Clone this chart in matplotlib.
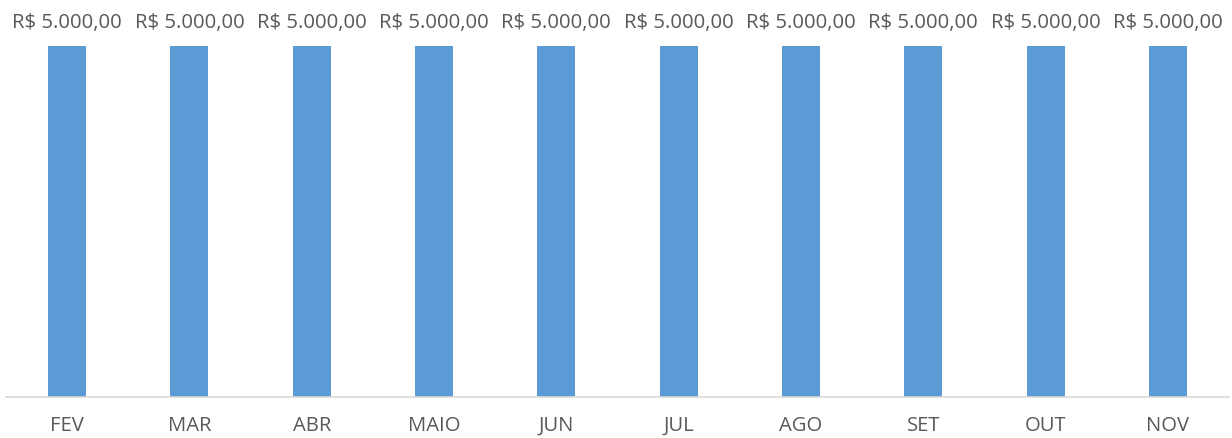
import matplotlib
matplotlib.use("Agg")
import matplotlib.pyplot as plt

months = ["FEV", "MAR", "ABR", "MAIO", "JUN", "JUL", "AGO", "SET", "OUT", "NOV"]
values = [5000, 5000, 5000, 5000, 5000, 5000, 5000, 5000, 5000, 5000]
labels = ["R$ 5.000,00"] * len(values)

plt.rcParams['font.family'] = ['Open Sans', 'DejaVu Sans']

W, H = 1232, 439
fig = plt.figure(figsize=(W / 100, H / 100), dpi=100)
ax = fig.add_axes([6 / W, 1 - 398 / H, (1229 - 6) / W, (398 - 47) / H])

x = list(range(len(months)))
ax.bar(x, values, width=0.31, color="#5B9BD5", zorder=2)
ax.set_xlim(-0.5, len(months) - 0.5)
ax.set_ylim(0, 5000)

for xi, v, lab in zip(x, values, labels):
    ax.annotate(lab, (xi, v), xytext=(0, 10), textcoords="offset points",
                ha="center", va="bottom", fontsize=14.6, color="#595959",
                annotation_clip=False)

ax.set_xticks(x)
ax.set_xticklabels(months, fontsize=14.6, color="#595959")
ax.tick_params(axis="x", length=0, pad=13)
ax.set_yticks([])
for s in ["top", "right", "left"]:
    ax.spines[s].set_visible(False)
ax.spines["bottom"].set_color("#D9D9D9")
ax.spines["bottom"].set_linewidth(1.2)

fig.savefig("out.png", dpi=100)
